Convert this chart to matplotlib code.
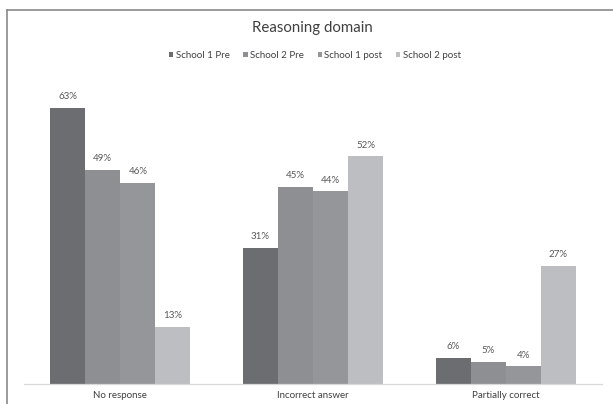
import matplotlib
matplotlib.use("Agg")
import matplotlib.pyplot as plt
import numpy as np
from matplotlib.lines import Line2D

categories = ["No response", "Incorrect answer", "Partially correct"]
series_names = ["School 1 Pre", "School 2 Pre", "School 1 post", "School 2 post"]
school1_pre = [63, 31, 6]
school2_pre = [49, 45, 5]
school1_post = [46, 44, 4]
school2_post = [13, 52, 27]
values = [school1_pre, school2_pre, school1_post, school2_post]
colors = ["#6c6d71", "#8e8f93", "#959699", "#bdbec2"]

plt.rcParams['font.family'] = ['Lato', 'DejaVu Sans']

fig = plt.figure(figsize=(6.13, 4.04), dpi=100)
W, H = 613, 404
ax = fig.add_axes([24 / W, 1 - 384 / H, (602 - 24) / W, (384 - 77.7) / H])

x = np.arange(len(categories))
bw = 0.7273 / 4
for i, (name, vals, c) in enumerate(zip(series_names, values, colors)):
    pos = x - 2 * bw + bw * (i + 0.5)
    bars = ax.bar(pos, vals, width=bw, color=c, label=name, zorder=2)
    for b, v in zip(bars, vals):
        ax.annotate(f"{v}%", (b.get_x() + b.get_width() / 2, v), xytext=(0, 5),
                    textcoords="offset points", ha="center", va="bottom",
                    fontsize=7, color="#595959")

ax.set_xlim(-0.5, 2.5)
ax.set_ylim(0, 70)
ax.set_yticks([])
ax.set_xticks(x)
ax.set_xticklabels(categories, fontsize=7, color="#404040")
ax.tick_params(axis="x", length=0, pad=5)
for s in ["top", "right", "left"]:
    ax.spines[s].set_visible(False)
ax.spines["bottom"].set_color("#d9d9d9")
ax.spines["bottom"].set_linewidth(0.9)

fig.text(312.5 / W, 1 - 28 / H, "Reasoning domain", ha="center", va="center",
         fontsize=10.8, color="#404040")

leg = fig.legend(loc="center", bbox_to_anchor=(315 / W, 1 - 55.5 / H), ncol=4,
                 frameon=False, fontsize=7, handlelength=0.45, handleheight=0.45,
                 handletextpad=0.25, columnspacing=1.4)
for t in leg.get_texts():
    t.set_color("#404040")

# chart frame (left and top edges visible)
fig.add_artist(Line2D([6.5 / W, 6.5 / W], [0, 1 - 9.5 / H], transform=fig.transFigure,
                      color="#8a8a8a", linewidth=1.2))
fig.add_artist(Line2D([6.5 / W, 1], [1 - 9.5 / H, 1 - 9.5 / H], transform=fig.transFigure,
                      color="#8a8a8a", linewidth=1.2))

fig.savefig("out.png", dpi=100)
